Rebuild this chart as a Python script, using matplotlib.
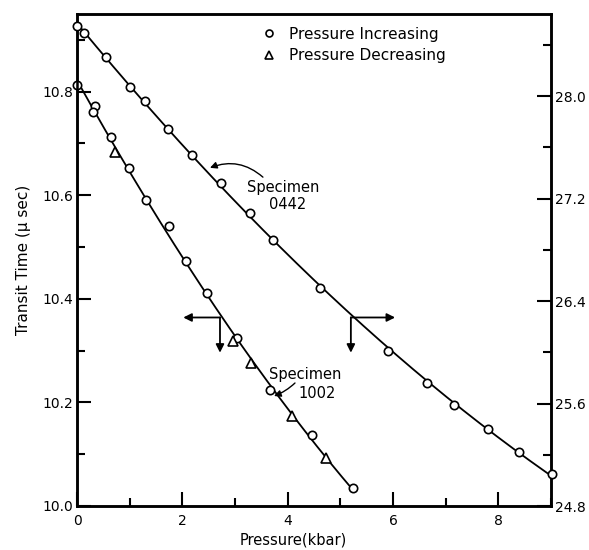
import numpy as np
import matplotlib
matplotlib.use("Agg")
import matplotlib.pyplot as plt
from matplotlib.ticker import MultipleLocator, FixedLocator
from matplotlib.lines import Line2D

# Specimen 0442 (right axis), pressure increasing
p0442 = [0.0, 0.14, 0.55, 1.01, 1.29, 1.72, 2.18, 2.73, 3.28, 3.72, 4.62, 5.91, 6.65, 7.15, 7.81, 8.40, 9.01]
t0442 = [28.545, 28.49, 28.305, 28.07, 27.96, 27.74, 27.54, 27.32, 27.09, 26.88, 26.50, 26.01, 25.76, 25.59, 25.40, 25.22, 25.05]

# Specimen 1002 (left axis), pressure increasing
p1002_inc = [0.0, 0.34, 0.30, 0.65, 0.99, 1.31, 1.74, 2.07, 2.47, 3.04, 3.67, 4.46, 5.24]
t1002_inc = [10.812, 10.773, 10.760, 10.712, 10.653, 10.591, 10.540, 10.474, 10.412, 10.325, 10.224, 10.137, 10.035]
# Specimen 1002, pressure decreasing
p1002_dec = [0.72, 2.97, 3.30, 4.08, 4.73]
t1002_dec = [10.683, 10.319, 10.276, 10.173, 10.093]

left_major = [10.0, 10.2, 10.4, 10.6, 10.8]
right_major = [24.8, 25.6, 26.4, 27.2, 28.0]
x_major = [0, 2, 4, 6, 8]

plt.rcParams['font.family'] = ['DejaVu Sans']
fig = plt.figure(figsize=(5.89, 5.50), dpi=100)
ax = fig.add_axes([77/589, 1-506/550, 474/589, 492/550])
ax2 = ax.twinx()

ax.set_xlim(0, 9)
ax.set_ylim(10.0, 10.95)
ax2.set_ylim(24.8, 28.64)

# fitted curves
c1 = np.polyfit(p0442, t0442, 2)
xx1 = np.linspace(min(p0442), max(p0442), 200)
ax2.plot(xx1, np.polyval(c1, xx1), color='black', lw=1.3, zorder=2)
pall = p1002_inc + p1002_dec
tall = t1002_inc + t1002_dec
c2 = np.polyfit(pall, tall, 2)
xx2 = np.linspace(0, max(pall), 200)
ax.plot(xx2, np.polyval(c2, xx2), color='black', lw=1.3, zorder=2)

mk = dict(color='black', mfc='white', mew=1.2, ls='none', zorder=3, clip_on=False)
ax2.plot(p0442, t0442, marker='o', ms=6, **mk)
ax.plot(p1002_inc, t1002_inc, marker='o', ms=6, **mk)
ax.plot(p1002_dec, t1002_dec, marker='^', ms=7.5, **mk)

# ticks
for a in (ax, ax2):
    for s in a.spines.values():
        s.set_linewidth(1.8)
ax.xaxis.set_major_locator(FixedLocator(x_major))
ax.xaxis.set_minor_locator(MultipleLocator(1))
ax.yaxis.set_major_locator(FixedLocator(left_major))
ax.yaxis.set_minor_locator(MultipleLocator(0.1))
ax2.yaxis.set_major_locator(FixedLocator(right_major))
ax2.yaxis.set_minor_locator(MultipleLocator(0.4))
ax.set_xticklabels([str(v) for v in x_major])
ax.set_yticklabels([f"{v:.1f}" for v in left_major])
ax2.set_yticklabels([f"{v:.1f}" for v in right_major])
for a in (ax, ax2):
    a.tick_params(which='major', direction='in', length=10, width=1.5, labelsize=10, pad=3)
    a.tick_params(which='minor', direction='in', length=6, width=1.5)
ax.tick_params(axis='y', which='both', right=False)
ax.tick_params(axis='x', which='major', pad=6)

ax.set_xlabel("Pressure(kbar)", fontsize=10.5)
ax.xaxis.set_label_coords((293-77)/474, -0.054)
ax.set_ylabel("Transit Time (\u03bc sec)", fontsize=11, labelpad=8)

# legend
h1 = Line2D([], [], marker='o', ls='none', color='black', mfc='white', ms=5, mew=1.2)
h2 = Line2D([], [], marker='^', ls='none', color='black', mfc='white', ms=6, mew=1.2)
ax.legend([h1, h2], ["Pressure Increasing", "Pressure Decreasing"], loc='upper left',
          bbox_to_anchor=(0.3755, 0.987), frameon=False, fontsize=11, handlelength=1.0,
          handletextpad=0.8, labelspacing=0.42, borderaxespad=0)

# crossing arrows
ap = dict(arrowstyle='-|>', color='black', lw=1.3, mutation_scale=12, shrinkA=0, shrinkB=0)
ax.annotate("", xy=(2.018, 10.364), xytext=(2.715, 10.364), arrowprops=ap)
ax.annotate("", xy=(2.715, 10.296), xytext=(2.715, 10.364), arrowprops=ap)
ax.annotate("", xy=(6.04, 10.364), xytext=(5.20, 10.364), arrowprops=ap)
ax.annotate("", xy=(5.20, 10.296), xytext=(5.20, 10.364), arrowprops=ap)

# specimen labels
ax.text(3.91, 10.615, "Specimen", ha='center', va='center', fontsize=10.5)
ax.text(3.99, 10.582, "0442", ha='center', va='center', fontsize=10.5)
ax.annotate("", xy=(2.525, 10.653), xytext=(3.53, 10.635),
            arrowprops=dict(arrowstyle='-|>', color='black', lw=1.0, mutation_scale=10,
                            shrinkA=0, shrinkB=0, connectionstyle='arc3,rad=0.3'))
ax.text(4.33, 10.253, "Specimen", ha='center', va='center', fontsize=10.5)
ax.text(4.55, 10.218, "1002", ha='center', va='center', fontsize=10.5)
ax.annotate("", xy=(3.74, 10.2124), xytext=(4.139, 10.2375),
            arrowprops=dict(arrowstyle='-|>', color='black', lw=1.0, mutation_scale=10,
                            shrinkA=0, shrinkB=0, connectionstyle='arc3,rad=-0.1'))

fig.savefig("out.png", dpi=100)
